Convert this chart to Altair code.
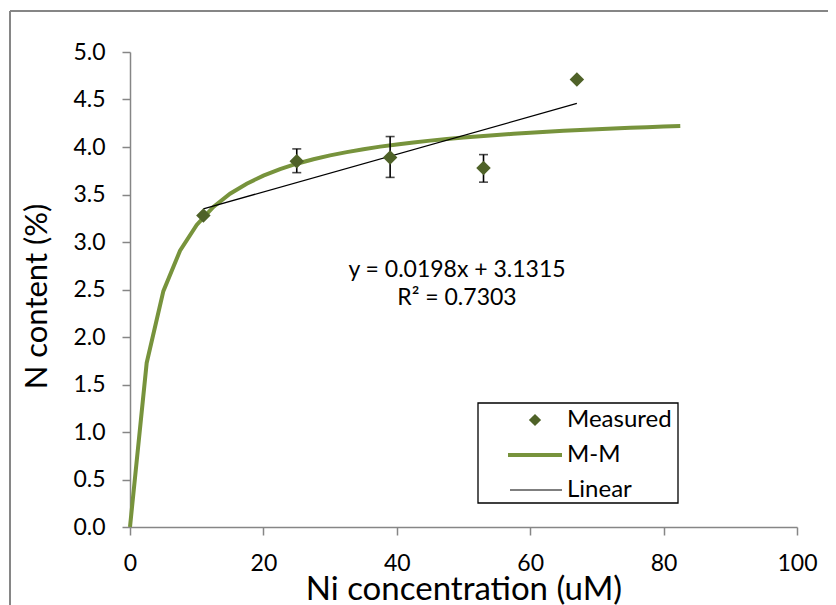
import altair as alt
import pandas as pd

# Measured data (x = Ni concentration uM, y = N content %)
meas_x = [11, 25, 39, 53, 67]
meas_y = [3.28, 3.85, 3.89, 3.78, 4.71]
err_lo = [3.28, 3.73, 3.68, 3.63, 4.71]
err_hi = [3.28, 3.98, 4.11, 3.92, 4.71]

# M-M fitted curve
mm_x = [0, 2.5, 5, 7.5, 10, 12.5, 15, 17.5, 20, 22.5, 25, 27.5, 30, 32.5, 35, 37.5,
        40, 42.5, 45, 47.5, 50, 52.5, 55, 57.5, 60, 62.5, 65, 67.5, 70, 72.5, 75,
        77.5, 80, 82.5]
mm_y = [0, 1.727, 2.483, 2.908, 3.180, 3.369, 3.508, 3.614, 3.699, 3.767, 3.824,
        3.871, 3.912, 3.946, 3.977, 4.004, 4.027, 4.048, 4.067, 4.085, 4.100, 4.114,
        4.127, 4.139, 4.150, 4.160, 4.170, 4.179, 4.187, 4.194, 4.202, 4.208, 4.215,
        4.220]

# Linear trend line endpoints
lin_x = [11, 67]
lin_y = [3.349, 4.458]

eq_lines = ["y = 0.0198x + 3.1315", "R² = 0.7303"]
legend_labels = ["Measured", "M-M", "Linear"]

FONT = "Lato"
OLIVE = "#77933C"
DARK = "#4F6228"
AX = "#868686"

meas = pd.DataFrame({"x": meas_x, "y": meas_y, "lo": err_lo, "hi": err_hi})
mm = pd.DataFrame({"x": mm_x, "y": mm_y})
lin = pd.DataFrame({"x": lin_x, "y": lin_y})
one = pd.DataFrame({"a": [0]})

xs = alt.Scale(domain=[0, 100], nice=False)
ys = alt.Scale(domain=[0, 5], nice=False)

xenc = alt.X("x:Q", scale=xs, axis=alt.Axis(
    title="Ni concentration (uM)", values=[0, 20, 40, 60, 80, 100], grid=False,
    labelFontSize=23, titleFontSize=33, labelPadding=17, labelFlush=False,
    titleY=72, titleBaseline="alphabetic", tickSize=8))
yenc = alt.Y("y:Q", scale=ys, axis=alt.Axis(
    title="N content (%)", values=[0, 0.5, 1, 1.5, 2, 2.5, 3, 3.5, 4, 4.5, 5],
    format=".1f", grid=False, labelFontSize=23, titleFontSize=31,
    labelPadding=17, titleX=-84, titleY=244, titleBaseline="alphabetic",
    tickSize=8))

curve = alt.Chart(mm).mark_line(color=OLIVE, strokeWidth=4).encode(x=xenc, y=yenc)
linear = alt.Chart(lin).mark_line(color="black", strokeWidth=1.3).encode(x="x:Q", y="y:Q")
eb = meas[meas.lo < meas.hi]
bars = alt.Chart(eb).mark_rule(color="black", strokeWidth=1.6).encode(
    x="x:Q", y="lo:Q", y2="hi:Q")
cap_lo = alt.Chart(eb).mark_tick(
    color="black", orient="horizontal", size=9, thickness=1.6).encode(x="x:Q", y="lo:Q")
cap_hi = alt.Chart(eb).mark_tick(
    color="black", orient="horizontal", size=9, thickness=1.6).encode(x="x:Q", y="hi:Q")
pts = alt.Chart(meas).mark_point(shape="diamond", filled=True, color=DARK,
                                 size=210, opacity=1).encode(x="x:Q", y="y:Q")

eq1 = alt.Chart(one).mark_text(
    font=FONT, fontSize=23, color="black", align="center", baseline="middle",
    text=eq_lines[0]).encode(x=alt.value(327), y=alt.value(218))
eq2 = alt.Chart(one).mark_text(
    font=FONT, fontSize=23, color="black", align="center", baseline="middle",
    text=eq_lines[1]).encode(x=alt.value(327), y=alt.value(246))

# Legend (manual)
leg_box = alt.Chart(one).mark_rect(
    fill="white", stroke="black", strokeWidth=1.3).encode(
    x=alt.value(348), x2=alt.value(548), y=alt.value(351), y2=alt.value(451))
leg_pt = alt.Chart(one).mark_point(
    shape="diamond", filled=True, color=DARK, size=150, opacity=1).encode(
    x=alt.value(405), y=alt.value(368))
leg_mm = alt.Chart(one).mark_rule(color=OLIVE, strokeWidth=4).encode(
    x=alt.value(378), x2=alt.value(432), y=alt.value(403))
leg_lin = alt.Chart(one).mark_rule(color="black", strokeWidth=1.2).encode(
    x=alt.value(380), x2=alt.value(432), y=alt.value(438))
leg_txts = [
    alt.Chart(one).mark_text(font=FONT, fontSize=24, color="black", align="left",
                             baseline="middle", text=lab).encode(
        x=alt.value(437), y=alt.value(368 + i * 35))
    for i, lab in enumerate(legend_labels)
]

# outer frame
frame_top = alt.Chart(one).mark_rule(color=AX, strokeWidth=2).encode(
    x=alt.value(-120), x2=alt.value(720), y=alt.value(-41))
frame_left = alt.Chart(one).mark_rule(color=AX, strokeWidth=2).encode(
    x=alt.value(-120), y=alt.value(-41), y2=alt.value(560))

chart = alt.layer(
    curve, frame_top, frame_left, linear, bars, cap_lo, cap_hi, pts, eq1, eq2,
    leg_box, leg_pt, leg_mm, leg_lin, *leg_txts
).properties(
    width=667, height=475,
    autosize=alt.AutoSizeParams(type="none"),
    padding={"left": 122, "top": 44, "right": 31, "bottom": 78},
).configure_view(stroke=None).configure_axis(
    domainColor=AX, tickColor=AX, domainWidth=1.5, tickWidth=1.5,
    labelFont=FONT, titleFont=FONT, labelColor="black", titleColor="black",
    titleFontWeight="normal"
)

chart.save("out.html", embed_options={"renderer": "svg", "actions": False})
